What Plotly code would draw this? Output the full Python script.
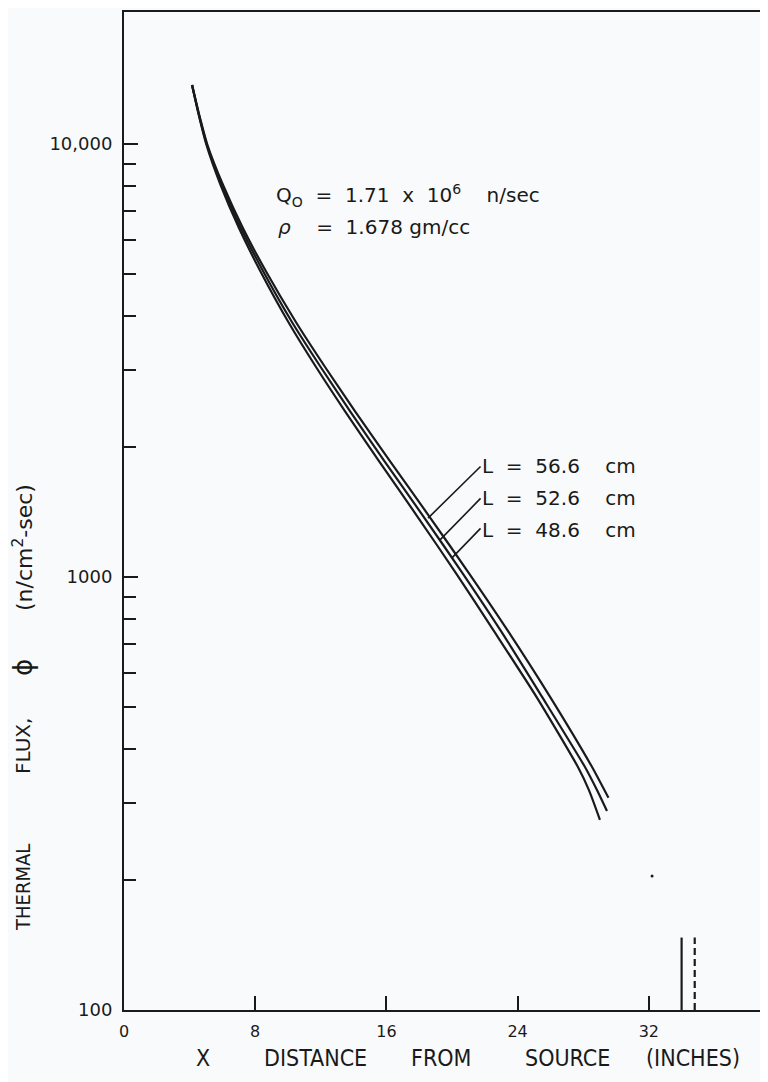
import math
import plotly.graph_objects as go

# ---- data ----
# L = 56.6 cm (outer / upper curve)
x_56 = [4.15, 4.59, 5.09, 6.04, 7.25, 8.68, 10.48, 12.26, 14.08, 16.26, 18.60, 21.07, 23.38, 25.99, 28.54, 29.54]
phi_56 = [13685, 11668, 9947, 8039, 6397, 5063, 3881, 3055, 2417, 1843, 1383, 1016, 754, 528, 364, 309]
# L = 52.6 cm (middle curve)
x_52 = [4.15, 4.57, 5.06, 5.96, 7.13, 8.51, 10.24, 11.99, 13.78, 15.92, 18.24, 20.68, 22.95, 25.50, 28.11, 28.84, 29.45]
phi_52 = [13685, 11668, 9947, 8039, 6397, 5063, 3881, 3055, 2417, 1843, 1383, 1016, 754, 528, 364, 322, 288]
# L = 48.6 cm (inner / lower curve)
x_48 = [4.15, 4.56, 5.03, 5.89, 7.01, 8.34, 10.02, 11.71, 13.47, 15.59, 17.87, 20.28, 22.52, 25.16, 27.68, 28.35, 29.02]
phi_48 = [13685, 11668, 9947, 8039, 6397, 5063, 3881, 3055, 2417, 1843, 1383, 1016, 754, 528, 364, 322, 275]

labels = ["L  =  56.6    cm", "L  =  52.6    cm", "L  =  48.6    cm"]
# leader end points on the curves (x, phi)
leader_x = [18.54, 19.27, 20.00]
leader_phi = [1368, 1218, 1107]

# boundary markers near the far end
bound_solid_x = 34.0
bound_dash_x = 34.8
bound_top = 147
speck_x, speck_y = 32.2, 204

x_ticks = [0, 8, 16, 24, 32]
x_ticktext = ["0", "8", "16", "24", "32"]
y_ticks = [100, 1000, 10000]
y_ticktext = ["100", "1000", "10,000"]
y_minor = [200, 300, 400, 500, 600, 700, 800, 900,
           2000, 3000, 4000, 5000, 6000, 7000, 8000, 9000]

# ---- layout geometry (page has an 8px body margin) ----
PAGE_OFF = 8
W, H = 768 - PAGE_OFF, 1082 - PAGE_OFF
L_M, R_M, T_M, B_M = 124 - PAGE_OFF, 0, 12 - PAGE_OFF, 72
PW = W - L_M - R_M
PH = H - T_M - B_M
X0 = PAGE_OFF + L_M
Y0 = PAGE_OFF + T_M + PH


def px(xpix):
    return (xpix - X0) / PW


def py(ypix):
    return (Y0 - ypix) / PH


FONT = "DejaVu Sans"
COND = "DejaVu Sans Condensed, DejaVu Sans"
INK = "#1a1a1a"
BG = "#f9fafb"

fig = go.Figure()
for xs, ys in [(x_56, phi_56), (x_52, phi_52), (x_48, phi_48)]:
    fig.add_trace(go.Scatter(x=xs, y=ys, mode="lines",
                             line=dict(color=INK, width=2.2, shape="spline", smoothing=0.6),
                             showlegend=False, hoverinfo="skip"))

fig.add_trace(go.Scatter(x=[bound_solid_x, bound_solid_x], y=[100, bound_top], mode="lines",
                         line=dict(color=INK, width=2.2), showlegend=False, hoverinfo="skip"))
fig.add_trace(go.Scatter(x=[bound_dash_x, bound_dash_x], y=[100, bound_top], mode="lines",
                         line=dict(color=INK, width=2.2, dash="7px,4px"), showlegend=False, hoverinfo="skip"))
fig.add_trace(go.Scatter(x=[speck_x], y=[speck_y], mode="markers",
                         marker=dict(color=INK, size=3), showlegend=False, hoverinfo="skip"))

ann = []
offsets = [(54, -53), (42, -43), (30, -31)]
label_y = [466, 498, 530]
for i in range(3):
    ann.append(dict(x=leader_x[i], y=math.log10(leader_phi[i]), xref="x", yref="y",
                    text="", showarrow=True, arrowhead=0, arrowwidth=1.6, arrowcolor=INK,
                    ax=offsets[i][0], ay=offsets[i][1], standoff=0, startstandoff=0))
    ann.append(dict(x=px(480), y=py(label_y[i]), xref="paper", yref="paper",
                    text=labels[i].replace(" ", "&nbsp;"), showarrow=False,
                    xanchor="left", yanchor="middle",
                    font=dict(family=FONT, size=20, color=INK)))

ann.append(dict(x=px(274), y=py(195), xref="paper", yref="paper", showarrow=False,
                xanchor="left", yanchor="middle",
                text="Q<sub>O</sub>&nbsp;&nbsp;=&nbsp;&nbsp;1.71&nbsp;&nbsp;x&nbsp;&nbsp;10<sup>6</sup>&nbsp;&nbsp;&nbsp;&nbsp;n/sec",
                font=dict(family=FONT, size=20, color=INK)))
ann.append(dict(x=px(276), y=py(227), xref="paper", yref="paper", showarrow=False,
                xanchor="left", yanchor="middle",
                text="<i>ρ</i>&nbsp;&nbsp;&nbsp;&nbsp;=&nbsp;&nbsp;1.678&nbsp;gm/cc",
                font=dict(family=FONT, size=20, color=INK)))

for word, cx in [("X", 203), ("DISTANCE", 315), ("FROM", 441), ("SOURCE", 567), ("(INCHES)", 693)]:
    ann.append(dict(x=px(cx), y=py(1058), xref="paper", yref="paper", showarrow=False,
                    xanchor="center", yanchor="middle", text=word,
                    font=dict(family=COND, size=23, color=INK)))

for word, cy, fam, size in [("THERMAL", 888, COND, 20), ("FLUX,", 746, FONT, 20),
                            ("ϕ", 668, FONT, 26), ("(n/cm<sup>2</sup>-sec)", 548, FONT, 22)]:
    ann.append(dict(x=px(23), y=py(cy), xref="paper", yref="paper", showarrow=False,
                    xanchor="center", yanchor="middle", text=word, textangle=-90,
                    font=dict(family=fam, size=size, color=INK)))

fig.update_layout(
    width=W, height=H,
    margin=dict(l=L_M, r=R_M, t=T_M, b=B_M),
    paper_bgcolor=BG, plot_bgcolor=BG,
    annotations=ann,
    showlegend=False,
    xaxis=dict(range=[0, PW / 16.4], tickvals=x_ticks, ticktext=x_ticktext,
               ticks="inside", ticklen=14, tickwidth=2, tickcolor=INK,
               showline=True, linecolor=INK, linewidth=2, mirror=True,
               showgrid=False, zeroline=False, ticklabelstandoff=6,
               tickfont=dict(family=FONT, size=16, color=INK)),
    yaxis=dict(type="log", range=[2, 2 + PH / 433.0], tickvals=y_ticks, ticktext=y_ticktext,
               ticks="inside", ticklen=14, tickwidth=2, tickcolor=INK,
               showline=True, linecolor=INK, linewidth=2, mirror=False,
               showgrid=False, zeroline=False, ticklabelstandoff=6,
               tickfont=dict(family=FONT, size=18, color=INK),
               minor=dict(tickvals=y_minor, ticks="inside", ticklen=12, tickwidth=2,
                          tickcolor=INK, showgrid=False)),
)

fig.write_html("out.html")
